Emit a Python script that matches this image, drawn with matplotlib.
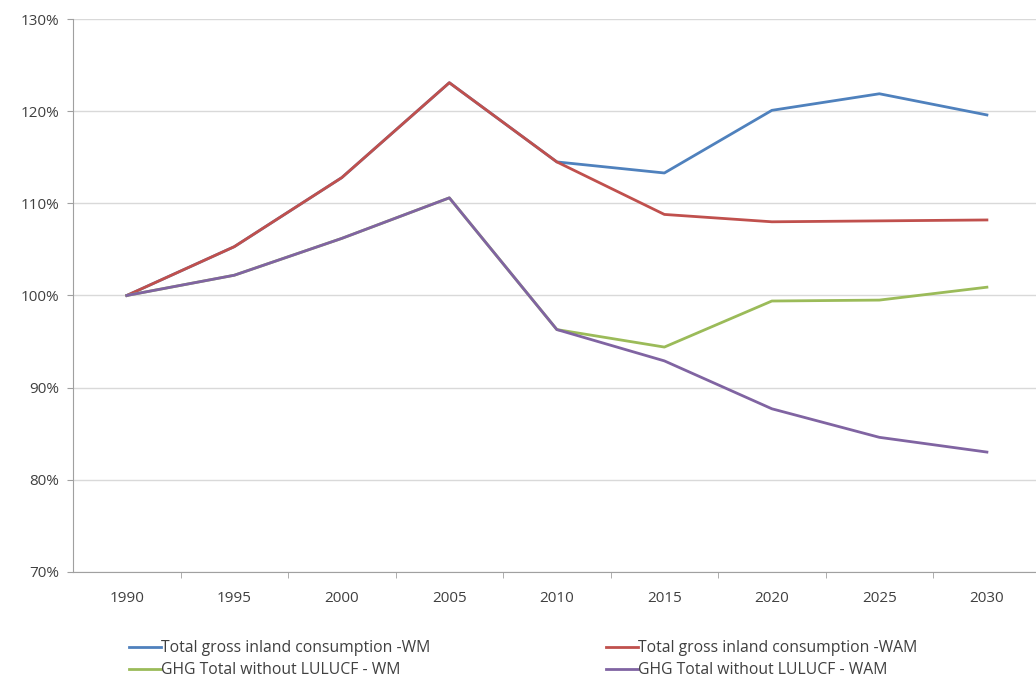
import matplotlib.pyplot as plt
from matplotlib.ticker import FuncFormatter

years = ["1990", "1995", "2000", "2005", "2010", "2015", "2020", "2025", "2030"]

# index, 1990 = 100%
gross_wm = [100.0, 105.3, 112.8, 123.1, 114.5, 113.3, 120.1, 121.9, 119.6]
gross_wam = [100.0, 105.3, 112.8, 123.1, 114.5, 108.8, 108.0, 108.1, 108.2]
ghg_wm = [100.0, 102.2, 106.2, 110.6, 96.3, 94.4, 99.4, 99.5, 100.9]
ghg_wam = [100.0, 102.2, 106.2, 110.6, 96.3, 92.9, 87.7, 84.6, 83.0]

labels = ["Total gross inland consumption -WM",
          "Total gross inland consumption -WAM",
          "GHG Total without LULUCF - WM",
          "GHG Total without LULUCF - WAM"]
colors = ["#4F81BD", "#C0504D", "#9BBB59", "#8064A2"]

plt.rcParams['font.family'] = ['Open Sans', 'DejaVu Sans']
txt = "#404040"

fig = plt.figure(figsize=(10.36, 6.84), dpi=100)
# plot area runs a little past the right edge, like the original crop
ax = fig.add_axes([0.0705, 0.164, 0.934, 0.808])

x = list(range(len(years)))
lines = []
for vals, lab, col in zip([gross_wm, gross_wam, ghg_wm, ghg_wam], labels, colors):
    ln, = ax.plot(x, vals, color=col, lw=2, label=lab, solid_joinstyle='round')
    lines.append(ln)

ax.set_xlim(-0.5, len(years) - 0.5)
ax.set_ylim(70, 130)
ax.set_yticks(range(70, 131, 10))
ax.yaxis.set_major_formatter(FuncFormatter(lambda v, p: "%d%%" % v))
ax.set_xticks(x)
ax.set_xticklabels(years)
ax.set_xticks([i + 0.5 for i in x[:-1]], minor=True)
ax.tick_params(axis='x', which='major', length=0, pad=14, labelsize=11, colors=txt)
ax.tick_params(axis='x', which='minor', length=4, color="#A0A0A0")
ax.tick_params(axis='y', length=4, color="#A0A0A0", labelsize=11, colors=txt, pad=6)
ax.grid(axis='y', color="#D9D9D9", lw=1)
ax.set_axisbelow(True)
for s in ['top', 'right']:
    ax.spines[s].set_visible(False)
for s in ['left', 'bottom']:
    ax.spines[s].set_color("#A0A0A0")

# legend rows: gross WM | gross WAM, then GHG WM | GHG WAM
order = [0, 2, 1, 3]
leg = fig.legend([lines[i] for i in order], [labels[i] for i in order],
                 loc='lower left', bbox_to_anchor=(0.111, -0.012), ncol=2, frameon=False,
                 fontsize=11.3, handlelength=2.0, handletextpad=0.05,
                 columnspacing=11.2, labelspacing=0.38)
for t in leg.get_texts():
    t.set_color(txt)

plt.savefig("out.png", dpi=100, facecolor="white")
